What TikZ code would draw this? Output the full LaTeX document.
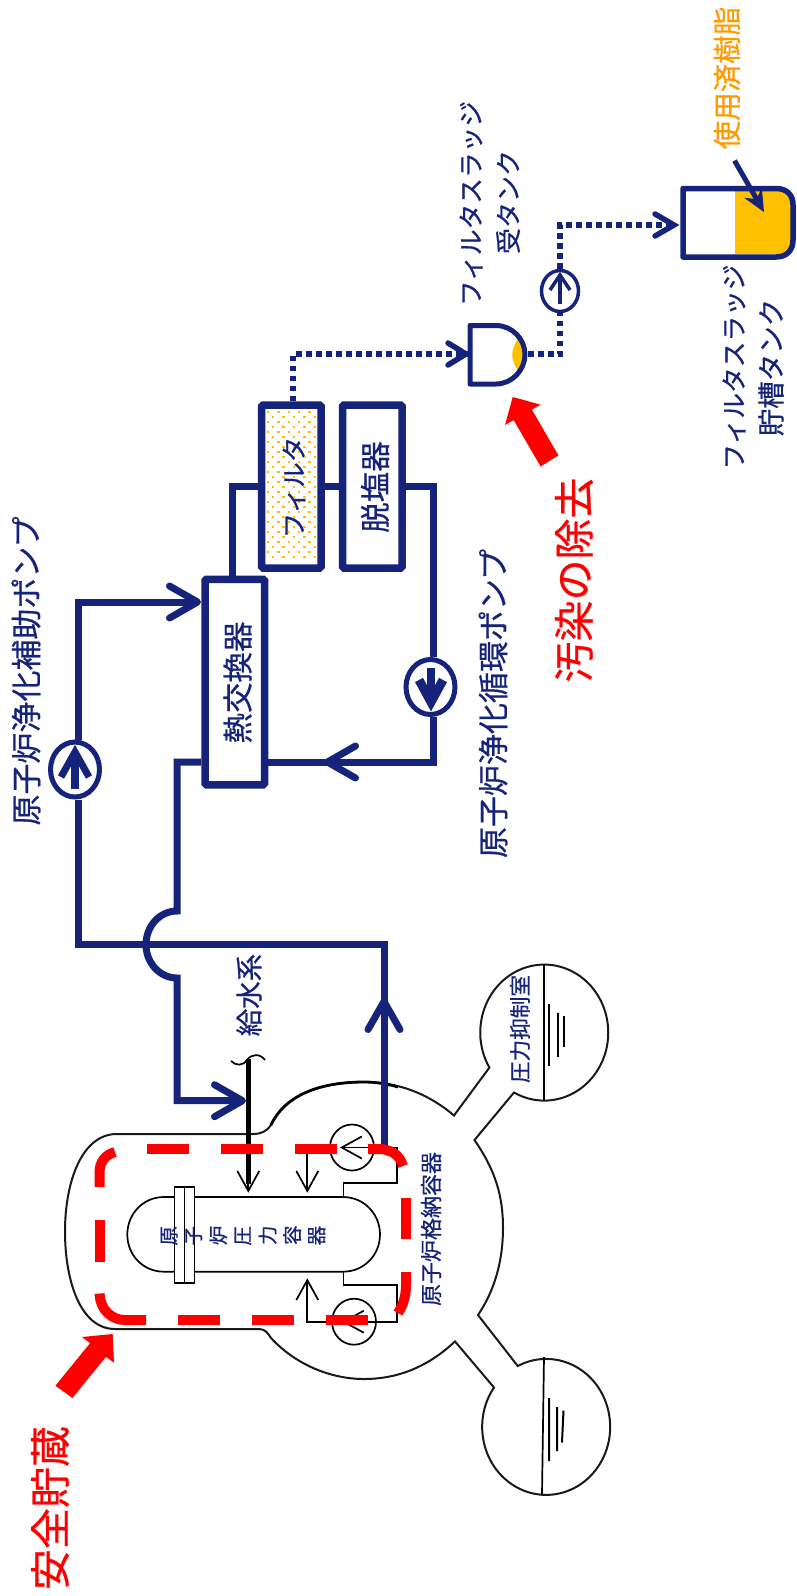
\documentclass[tikz,border=0pt]{standalone}
\usepackage{fontspec}
\usepackage{graphicx}
\usetikzlibrary{arrows.meta,shapes.geometric,calc}
\newfontfamily\cjk[FakeBold=0.6]{Noto Sans CJK JP}
\definecolor{navy}{HTML}{16237A}
\definecolor{resin}{HTML}{FFC000}
\definecolor{resintext}{HTML}{FF9A00}
\newcommand{\fs}[1]{\cjk\fontsize{#1}{#1}\selectfont}
\newcommand{\rc}[1]{\makebox[24.6pt]{\rotatebox[origin=c]{90}{#1}}}
\tikzset{
  x=1pt,y=-1pt,
  pipe/.style={draw=navy,line width=7pt},
  dotpipe/.style={draw=navy,line width=6pt,dash pattern=on 5.5pt off 4.5pt},
  vessel/.style={rectangle,draw=navy,line width=7.5pt,fill=white,rounded corners=1.5pt,inner sep=0pt},
  pumpbig/.style={ellipse,draw=navy,line width=5pt,fill=white,inner sep=0pt,minimum width=49pt,minimum height=55pt},
  pumpsmall/.style={ellipse,draw=navy,line width=3.5pt,fill=white,inner sep=0pt,minimum width=37pt,minimum height=41pt},
  pumpthin/.style={ellipse,draw=black,line width=1.7pt,fill=white,inner sep=0pt,minimum width=44pt,minimum height=46pt},
  thinline/.style={draw=black,line width=1.7pt},
  barb/.style={-{Straight Barb[length=28pt,width=32pt,round]}},
  thinbarb/.style={-{Straight Barb[length=20pt,width=22pt]}},
  reddash/.style={draw=red,line width=10pt},
  lab/.style={inner sep=0pt,text=navy,rotate=90,align=center},
  redlab/.style={inner sep=0pt,text=red,rotate=90},
}
\begin{document}
\begin{tikzpicture}
\useasboundingbox (0,0) rectangle (796,1596);

% containment outline
\draw[line width=2pt,draw=black!90,fill=white]
  (253,1134) -- (115,1134)
  .. controls (80,1136) and (65,1185) .. (65,1231.5)
  .. controls (65,1280) and (80,1329) .. (115,1329)
  -- (259,1329) .. controls (265,1329) and (268,1333) .. (271,1338)
  .. controls (295,1364) and (330,1379) .. (364,1379)
  .. controls (400,1379) and (430,1365) .. (455,1341.4)
  -- (494,1387.5)
  arc[start angle=215.4,end angle=-116.4,x radius=64,y radius=68]
  -- (478,1315)
  .. controls (495,1290) and (503,1260) .. (503,1228)
  .. controls (503,1195) and (495,1170) .. (474.5,1140)
  -- (514,1092.5)
  arc[start angle=118.2,end angle=-211,x radius=64,y radius=68]
  -- (454,1115.5)
  .. controls (430,1095) and (400,1082) .. (364,1082)
  .. controls (320,1082) and (285,1095) .. (271,1125)
  .. controls (268,1130) and (262,1134) .. (253,1134) -- cycle;
% heavier upper arc
\draw[line width=2.8pt] (398,1087) .. controls (388,1084) and (376,1082) .. (364,1082)
  .. controls (320,1082) and (285,1095) .. (271,1125);
% suppression water
\draw[line width=1.7pt] (544,964) -- (544,1100);
\draw[line width=2pt] (549,1004) -- (549,1066) (557.5,1012.5) -- (557.5,1057) (564,1016) -- (564,1047);
\draw[line width=1.7pt] (544,1357) -- (542,1494);
\draw[line width=2pt] (549,1398) -- (549,1461) (557,1407) -- (557,1451) (563.5,1410.5) -- (562,1442.5);

% reactor pressure vessel
\draw[thinline,fill=white] (174,1197) -- (164,1197)
  .. controls (143,1197) and (127.3,1214) .. (127.3,1234.5)
  .. controls (127.3,1255) and (143,1271.7) .. (164,1271.7)
  -- (343,1271.7) .. controls (364,1271.7) and (380,1255) .. (380,1234.5)
  .. controls (380,1214) and (364,1197) .. (343,1197) -- cycle;
\node[draw=black,line width=1.9pt,fill=white,minimum width=10pt,minimum height=96pt,inner sep=0pt] (flangeA) at (179.5,1235) {};
\node[draw=black,line width=1.9pt,fill=white,minimum width=10pt,minimum height=96pt,inner sep=0pt] (flangeB) at (189.5,1235) {};

% recirculation loops
\node[pumpthin] (pumpU) at (352,1147.5) {};
\node[pumpthin] (pumpL) at (354,1321.7) {};
\coordinate (rpvU) at (343.5,1197);
\coordinate (rpvL) at (343.5,1271.7);
\coordinate (tipU) at (307.3,1192.7);
\coordinate (tipL) at (307.3,1278.3);
\draw[thinline] (rpvU) -- (343.5,1183.3) -- (396.7,1183.3) -- (396.7,1147.5) -- (pumpU.east);
\draw[thinline] (rpvL) -- (343.5,1285) -- (396.7,1285) -- (396.7,1321.7) -- (pumpL.east);
\draw[thinline,thinbarb] (pumpU.west) -- (tipU |- pumpU.west) -- (tipU);
\draw[thinline,thinbarb] (pumpL.west) -- (tipL |- pumpL.west) -- (tipL);
\coordinate (inU) at (340,1147.5);
\coordinate (inL) at (342,1321.7);
\draw[thinline,thinbarb] (pumpU.east) -- (inU);
\draw[thinline,thinbarb] (pumpL.east) -- (inL);

% feedwater line
\coordinate (fwTop) at (248.3,1059);
\coordinate (fwTip) at (248.3,1192.7);
\draw[line width=5.5pt,draw=black] (fwTop) -- (248.3,1184);
\draw[thinline,thinbarb] (248.3,1170) -- (fwTip);
\draw[thinline] (231,1061) .. controls (236,1066) and (243,1066) .. (247,1060) .. controls (251,1054) and (260,1053) .. (265,1060);

% equipment
\node[vessel,minimum width=59.5pt,minimum height=205.5pt] (hx) at (234.75,682) {};
\node[vessel,minimum width=59.5pt,minimum height=163pt] (filt) at (291.4,486.5) {};
\node[vessel,minimum width=59.5pt,minimum height=163pt] (demin) at (372.25,486.5) {};
\foreach \i in {0,...,9}{
  \foreach \j in {0,...,14}{
    \pgfmathsetmacro{\xx}{268+5.2*\i}
    \pgfmathsetmacro{\yy}{412+10*\j+5*mod(\i,2)}
    \fill[resin] (\xx-1.2,\yy-1.2) rectangle (\xx+1.2,\yy+1.2);
  }
}
\node[pumpbig] (pumpAux) at (75,769.5) {};
\node[pumpbig] (pumpRec) at (430.5,687) {};
\node[pumpsmall] (pumpSludge) at (560,291) {};

% pump arrows
\draw[navy,line width=8pt] (75,789) -- (75,755);
\draw[navy,line width=7pt,miter limit=10] (61,777) -- (75,752) -- (89,777);
\draw[navy,line width=8pt] (431,668) -- (431,702);
\draw[navy,line width=9pt,miter limit=10] (419,680) -- (431,702) -- (443,680);
\draw[navy,line width=3.5pt] (560,304) -- (560,276);
\draw[navy,line width=3.5pt,miter limit=10] (550,290) -- (560,275) -- (570,290);

% purification piping
\coordinate (auxTop) at (78.5,602);
\coordinate (hxIn) at (201,602);
\coordinate (junc) at (78.5,944);
\coordinate (retCorner) at (384,944);
\coordinate (retStart) at (384,1146);
\coordinate (retTip) at (384,998);
\draw[pipe] (retStart) -- (retCorner) -- (junc) -- (junc |- pumpAux.south);
\draw[pipe,barb] (retStart) -- (retTip);
\draw[pipe,barb] (junc |- pumpAux.north) -- (auxTop) -- (hxIn);

\coordinate (hxOutL) at (201,762);
\coordinate (bendA) at (177,762);
\coordinate (bendB) at (177,911);
\coordinate (bendC) at (177,978);
\coordinate (bendD) at (177,1100.7);
\coordinate (fwIn) at (246,1100.7);
\draw[pipe,barb] (hxOutL) -- (bendA) -- (bendB)
  arc[start angle=270,end angle=90,x radius=31,y radius=33.5] -- (bendD) -- (fwIn);

\coordinate (hxOutR) at (268,762);
\coordinate (recCorner) at (433,762);
\coordinate (recTip) at (324,762);
\coordinate (pipeL) at (232,486.5);
\coordinate (pipeR) at (433,486.5);
\draw[pipe] (hx.north -| pipeL) -- (pipeL) -- (filt.west);
\draw[pipe] (filt.east) -- (demin.west);
\draw[pipe] (demin.east) -- (pipeR) -- (pipeR |- pumpRec.north);
\draw[pipe] (pipeR |- pumpRec.south) -- (recCorner) -- (hxOutR);
\draw[pipe,barb] (recCorner) -- (recTip);

% sludge tanks
\fill[resin] (519,337) .. controls (510,350) and (510,360) .. (519,372) .. controls (524,362) and (524,347) .. (519,337) -- cycle;
\node[inner sep=0pt,minimum width=57pt,minimum height=62pt] (recvTank) at (496,354.5) {};
\draw[navy,line width=5pt,line join=round] (470,325.5) -- (496,325.5)
  .. controls (512,325.5) and (525,339) .. (525,354.5)
  .. controls (525,370) and (512,384) .. (496,384) -- (470,384) -- cycle;
\fill[resin] (735,191) -- (778,191) .. controls (786,191) and (791,196) .. (791,203) -- (791,242) .. controls (791,249) and (786,254) .. (778,254) -- (735,254) -- cycle;
\node[inner sep=0pt,minimum width=113pt,minimum height=75pt] (storTank) at (737.5,222.5) {};
\draw[navy,line width=5.5pt,line join=round] (683,188.5) -- (776,188.5)
  .. controls (787,188.5) and (793,195) .. (793,205) -- (793,240)
  .. controls (793,250) and (787,257) .. (776,257) -- (683,257) -- cycle;

\coordinate (dotA) at (293.4,354);
\coordinate (dotB) at (560,354);
\coordinate (dotC) at (560,225);
\draw[dotpipe] (293.4,401) -- (dotA) -- (468,354);
\draw[navy,line width=5.5pt,line cap=round,miter limit=10] (448,343) -- (466,354) -- (448,365);
\draw[dotpipe] (528,354) -- (dotB) -- (pumpSludge.south);
\draw[dotpipe] (pumpSludge.north) -- (dotC) -- (676,225);
\draw[navy,line width=5.5pt,line cap=round,miter limit=10] (655,214) -- (674,225) -- (655,236);

\coordinate (resinFrom) at (734.5,160.6);
\coordinate (resinTo) at (764,212);
\draw[navy,line width=5pt,-{Stealth[length=22pt,width=20pt]}] (resinFrom) -- (resinTo);

% red boundary
\draw[reddash] (146.7,1149) -- (189,1149);
\draw[reddash] (220.7,1149) -- (262.7,1149);
\draw[reddash] (295,1149) -- (336.7,1149);
\draw[reddash] (368,1149) -- (378,1149) .. controls (391,1149) and (400,1155) .. (403,1166);
\draw[reddash] (406,1198) -- (406,1239);
\draw[reddash] (406,1272) -- (406,1285) .. controls (406,1297) and (403,1305) .. (398,1313);
\draw[reddash] (368,1320) -- (326,1320);
\draw[reddash] (294,1320) -- (251.7,1320);
\draw[reddash] (220,1320) -- (178,1320);
\draw[reddash] (146,1320) -- (125,1320) .. controls (112,1320) and (100,1310) .. (99.6,1293.5);
\draw[reddash] (99.6,1262) -- (99.6,1220);
\draw[reddash] (99.6,1187) -- (99.6,1172) .. controls (99.6,1162) and (105,1155) .. (115,1152);

% red arrows
\fill[red] (112.7,1334) -- (82,1337) -- (90,1343.2) -- (55.4,1385.7) -- (72.4,1398) -- (106,1356.8) -- (114,1362.7) -- cycle;
\fill[red] (512.7,397) -- (540.6,404.7) -- (531.9,409.6) -- (558.4,455.4) -- (540.6,466.5) -- (513.7,420.1) -- (505,425) -- cycle;

% labels
\node[lab] (lAux) at (26,671) {\fs{31}原子炉浄化補助ポンプ};
\node[lab] (lRec) at (493,703.5) {\fs{31}原子炉浄化循環ポンプ};
\node[lab] (lHx) at (237.6,682.5) {\fs{30.5}熱交換器};
\node[lab] (lFilt) at (294,487.5) {\fs{25.5}フィルタ};
\node[lab] (lDem) at (375,487) {\fs{30.5}脱塩器};
\node[lab] (lFw) at (249,995) {\fs{27.5}給水系};
\node[lab] (lRt1) at (471,203.5) {\fs{25.7}フィルタスラッジ};
\node[lab] (lRt2) at (508,202) {\fs{26}受タンク};
\node[lab] (lSt1) at (734,367) {\fs{25.7}フィルタスラッジ};
\node[lab] (lSt2) at (771,367.5) {\fs{27.5}貯槽タンク};
\node[lab,text=resintext] (lRes) at (727,78) {\fs{28.5}使用済樹脂};
\node[lab] (lSup) at (520,1029) {\fs{21.6}圧力抑制室};
\node[lab] (lPcv) at (431,1229) {\fs{22}原子炉格納容器};
\node[inner sep=0pt,text=navy] (lRpv) at (243,1235.5) {\fs{19.5}\rc{原}\rc{子}\rc{炉}\rc{圧}\rc{力}\rc{容}\rc{器}};
\node[redlab] (lClean) at (574,580) {\fs{41}汚染の除去};
\node[redlab] (lStore) at (50,1508) {\fs{41}安全貯蔵};
\end{tikzpicture}
\end{document}
